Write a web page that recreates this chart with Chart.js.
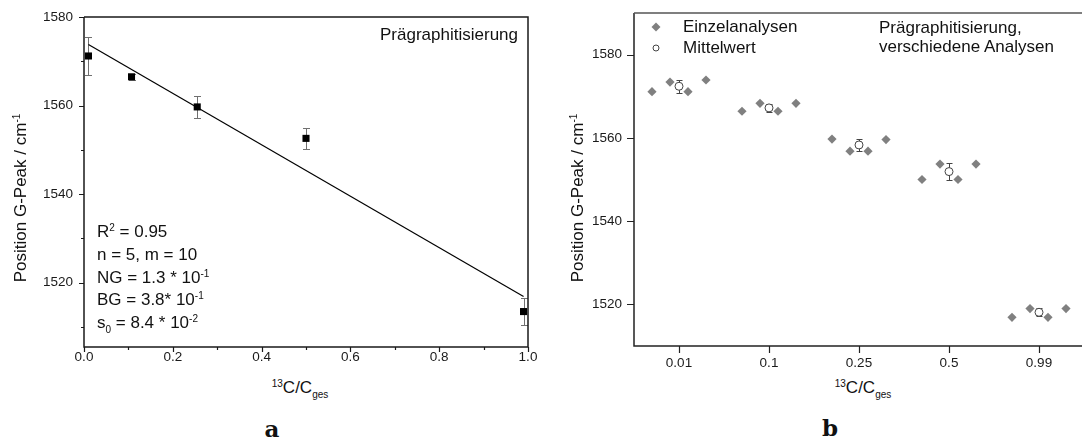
<!DOCTYPE html>
<html>
<head>
<meta charset="utf-8">
<script src="https://cdn.jsdelivr.net/npm/chart.js@4.4.1/dist/chart.umd.min.js"></script>
<style>
  body { margin:0; width:1082px; height:442px; overflow:hidden; background:#fff; position:relative;
         font-family:'Liberation Sans', Arial, sans-serif; color:#111; }
  canvas { position:absolute; top:0; }
  #chartA { left:0; }
  #chartB { left:541px; }
  .txt { position:absolute; font-size:17px; line-height:20px; white-space:nowrap; }
  .sup { font-size:10px; vertical-align:6px; line-height:0; }
  .sub { font-size:10px; vertical-align:-5px; line-height:0; }
  .ytitle { width:300px; height:20px; text-align:center; transform:rotate(-90deg); }
  .xtitle { width:200px; text-align:center; }
  .panel { position:absolute; width:40px; text-align:center; font-family:'DejaVu Serif', serif;
           font-weight:bold; font-size:23px; line-height:26px; }
</style>
</head>
<body>
<canvas id="chartA" width="545" height="372"></canvas>
<canvas id="chartB" width="560" height="372"></canvas>

<!-- panel a texts -->
<div class="txt" style="right:564px; top:25px;">Prägraphitisierung</div>
<div class="txt" style="left:97px; top:221px; line-height:22.8px;">
  R<span class="sup">2</span> = 0.95<br>
  n = 5, m = 10<br>
  NG = 1.3 * 10<span class="sup">-1</span><br>
  BG = 3.8* 10<span class="sup">-1</span><br>
  s<span class="sub">0</span> = 8.4 * 10<span class="sup">-2</span>
</div>
<div class="txt ytitle" style="left:-129px; top:188px;">Position G-Peak / cm<span class="sup">-1</span></div>
<div class="txt xtitle" style="left:200px; top:378px;"><span class="sup">13</span>C/C<span class="sub">ges</span></div>
<div class="panel" style="left:252px; top:416px;">a</div>

<!-- panel b texts -->
<div class="txt" style="left:683px; top:17px;">Einzelanalysen</div>
<div class="txt" style="left:683px; top:38px;">Mittelwert</div>
<div class="txt" style="left:879px; top:18px;">Prägraphitisierung,</div>
<div class="txt" style="left:879px; top:37px;">verschiedene Analysen</div>
<div class="txt ytitle" style="left:428px; top:188px;">Position G-Peak / cm<span class="sup">-1</span></div>
<div class="txt xtitle" style="left:763px; top:378px;"><span class="sup">13</span>C/C<span class="sub">ges</span></div>
<div class="panel" style="left:810px; top:415px;">b</div>

<script>
// ---- panel a data ----
const fracA = [0.01, 0.107, 0.255, 0.5, 0.99];
const peakA = [1571.2, 1566.5, 1559.7, 1552.6, 1513.5];
const errA = [4.3, 0.7, 2.4, 2.3, 3.0];
const fitX = [0.01, 0.99];
const fitY = [1573.8, 1516.9];
const xTicksA = [0, 0.2, 0.4, 0.6, 0.8, 1.0];
const xMinorA = [0.1, 0.3, 0.5, 0.7, 0.9];
const yTicksA = [1520, 1540, 1560, 1580];
const yMinorA = [1510, 1530, 1550, 1570];

// ---- panel b data ----
const catsB = ['0.01', '0.1', '0.25', '0.5', '0.99'];
const singleB = [
  [1571.1, 1573.4, 1571.1, 1573.9],
  [1566.4, 1568.3, 1566.4, 1568.3],
  [1559.7, 1556.8, 1556.8, 1559.6],
  [1550.0, 1553.7, 1550.0, 1553.7],
  [1516.9, 1519.0, 1516.9, 1519.0]
];
const meanB = [1572.4, 1567.2, 1558.3, 1551.9, 1518.1];
const errB = [1.5, 0.9, 1.4, 2.1, 1.0];
const yTicksB = [1520, 1540, 1560, 1580];
// horizontal spread of the single analyses around each category
const spread = [-0.3, -0.1, 0.1, 0.3];

const tickFont = { family: "'Liberation Sans', Arial, sans-serif", size: 13.5 };

// error bars + frame + tick marks
const frameTicks = {
  id: 'frameTicks',
  beforeDatasetsDraw(chart) {
    const ctx = chart.ctx, ys = chart.scales.y;
    chart.data.datasets.forEach((ds, i) => {
      if (!ds.errors) return;
      const meta = chart.getDatasetMeta(i);
      ctx.save();
      ctx.strokeStyle = ds.errorColor;
      ctx.lineWidth = 1;
      meta.data.forEach((pt, j) => {
        const v = ds.data[j].y, e = ds.errors[j];
        const top = Math.round(ys.getPixelForValue(v + e)) + 0.5;
        const bot = Math.round(ys.getPixelForValue(v - e)) + 0.5;
        const x = Math.round(pt.x) + 0.5, c = ds.errorCap;
        ctx.beginPath();
        ctx.moveTo(x, top); ctx.lineTo(x, bot);
        ctx.moveTo(x - c, top); ctx.lineTo(x + c, top);
        ctx.moveTo(x - c, bot); ctx.lineTo(x + c, bot);
        ctx.stroke();
      });
      ctx.restore();
    });
  },
  afterDraw(chart, args, o) {
    const ctx = chart.ctx, a = chart.chartArea, xs = chart.scales.x, ys = chart.scales.y;
    ctx.save();
    ctx.strokeStyle = o.color;
    ctx.lineWidth = 1.2;
    ctx.beginPath();
    const xt = (vals, len) => vals.forEach(v => {
      const px = Math.round(xs.getPixelForValue(v)) + 0.5;
      ctx.moveTo(px, a.bottom); ctx.lineTo(px, a.bottom + len);
    });
    const yt = (vals, len) => vals.forEach(v => {
      const py = Math.round(ys.getPixelForValue(v)) + 0.5;
      ctx.moveTo(a.left, py); ctx.lineTo(a.left - len, py);
    });
    xt(o.xMajor, o.major); xt(o.xMinor || [], o.minor);
    yt(o.yMajor, o.major); yt(o.yMinor || [], o.minor);
    ctx.stroke();

    ctx.lineWidth = 1.5;
    ctx.beginPath();
    ctx.moveTo(a.left, a.top); ctx.lineTo(a.left, a.bottom); ctx.lineTo(a.right, a.bottom);
    if (o.box) { ctx.lineTo(a.right, a.top); ctx.lineTo(a.left, a.top); }
    ctx.stroke();
    if (o.topColor) {
      ctx.strokeStyle = o.topColor;
      ctx.beginPath();
      ctx.moveTo(a.left, a.top); ctx.lineTo(a.right, a.top);
      ctx.stroke();
    }
    ctx.restore();
  }
};

// tick label offset is done with an invisible tick length, so the scale
// does not add the label padding to the chart area
const hiddenTicks = len => ({ display: false, drawTicks: true, tickLength: len });

// ---- panel a ----
new Chart(document.getElementById('chartA'), {
  type: 'scatter',
  data: {
    datasets: [
      {
        data: fracA.map((x, i) => ({ x, y: peakA[i] })),
        errors: errA, errorColor: '#707070', errorCap: 3.5,
        pointStyle: 'rect', pointRadius: 5, borderWidth: 0,
        backgroundColor: '#000', order: 1
      },
      {
        data: fitX.map((x, i) => ({ x, y: fitY[i] })),
        showLine: true, pointRadius: 0, borderColor: '#000', borderWidth: 1.2, order: 2
      }
    ]
  },
  options: {
    responsive: false, animation: false, events: [],
    layout: { padding: { top: 17, right: 17, left: 0, bottom: 0 } },
    plugins: {
      legend: { display: false }, tooltip: { enabled: false },
      frameTicks: { color: '#1a1a1a', box: true, major: 5, minor: 3,
        xMajor: xTicksA, xMinor: xMinorA, yMajor: yTicksA, yMinor: yMinorA }
    },
    scales: {
      x: {
        type: 'linear', min: 0, max: 1,
        afterBuildTicks: s => { s.ticks = xTicksA.map(v => ({ value: v })); },
        afterFit: s => { s.height = 25; },
        grid: hiddenTicks(2), border: { display: false },
        ticks: { font: tickFont, color: '#1a1a1a', padding: 0, maxRotation: 0,
          callback: v => v.toFixed(1) }
      },
      y: {
        min: 1505.5, max: 1580,
        afterBuildTicks: s => { s.ticks = yTicksA.map(v => ({ value: v })); },
        afterFit: s => { s.width = 84; },
        grid: hiddenTicks(11), border: { display: false },
        ticks: { font: tickFont, color: '#1a1a1a', padding: 0, callback: v => String(v) }
      }
    }
  },
  plugins: [frameTicks]
});

// ---- panel b ----
const legendMarks = {
  id: 'legendMarks',
  afterDraw(chart) {
    const ctx = chart.ctx, a = chart.chartArea;
    const x = a.left + 22;
    ctx.save();
    ctx.fillStyle = '#808080';
    ctx.beginPath();
    ctx.moveTo(x, 27 - 4.5); ctx.lineTo(x + 4.5, 27); ctx.lineTo(x, 27 + 4.5); ctx.lineTo(x - 4.5, 27);
    ctx.closePath(); ctx.fill();
    ctx.strokeStyle = '#444'; ctx.fillStyle = '#fff'; ctx.lineWidth = 1;
    ctx.beginPath(); ctx.arc(x, 48, 3, 0, Math.PI * 2); ctx.fill(); ctx.stroke();
    ctx.restore();
  }
};

new Chart(document.getElementById('chartB'), {
  type: 'scatter',
  data: {
    datasets: [
      {
        label: 'Einzelanalysen',
        data: singleB.flatMap((vals, i) => vals.map((y, k) => ({ x: i + spread[k], y }))),
        pointStyle: 'rectRot', pointRadius: 4.6, borderWidth: 0, backgroundColor: '#808080'
      },
      {
        label: 'Mittelwert',
        data: meanB.map((y, i) => ({ x: i, y })),
        errors: errB, errorColor: '#444', errorCap: 3,
        pointStyle: 'circle', pointRadius: 4, borderWidth: 1,
        borderColor: '#444', backgroundColor: '#fff'
      }
    ]
  },
  options: {
    responsive: false, animation: false, events: [],
    layout: { padding: { top: 13, right: 17, left: 0, bottom: 0 } },
    plugins: {
      legend: { display: false }, tooltip: { enabled: false },
      frameTicks: { color: '#222', topColor: '#555', box: false, major: 7,
        xMajor: catsB.map((c, i) => i), yMajor: yTicksB }
    },
    scales: {
      x: {
        type: 'linear', min: -0.5, max: 4.5,
        afterBuildTicks: s => { s.ticks = catsB.map((c, i) => ({ value: i })); },
        afterFit: s => { s.height = 26; },
        grid: hiddenTicks(9), border: { display: false },
        ticks: { font: tickFont, color: '#1a1a1a', padding: 0, maxRotation: 0,
          callback: v => catsB[v] }
      },
      y: {
        min: 1510, max: 1590,
        afterBuildTicks: s => { s.ticks = yTicksB.map(v => ({ value: v })); },
        afterFit: s => { s.width = 93; },
        grid: hiddenTicks(12), border: { display: false },
        ticks: { font: tickFont, color: '#1a1a1a', padding: 0, callback: v => String(v) }
      }
    }
  },
  plugins: [frameTicks, legendMarks]
});
</script>
</body>
</html>
